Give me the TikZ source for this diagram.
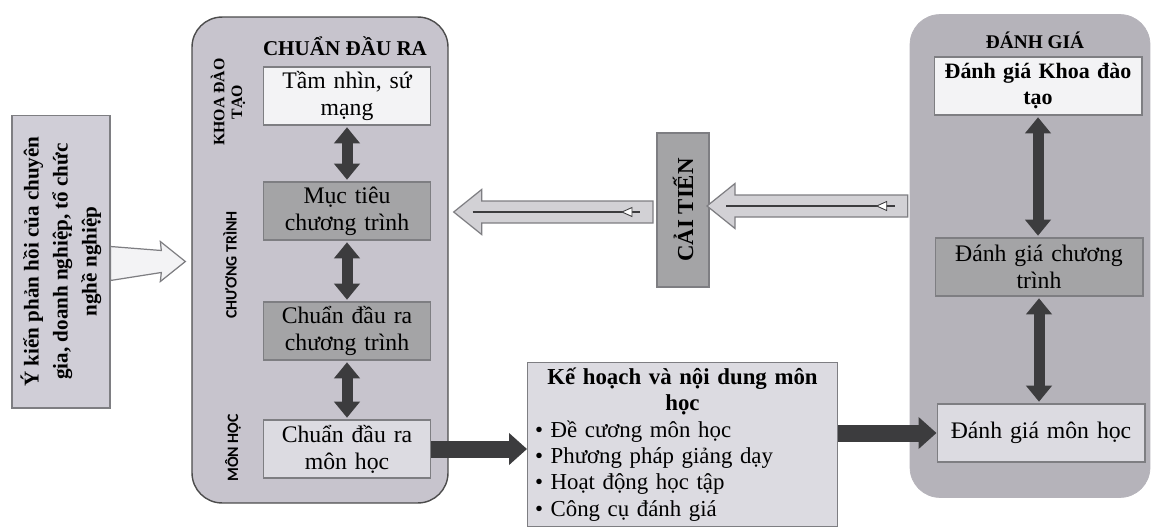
\documentclass[tikz,border=0pt]{standalone}
\usepackage{fontspec}
\setmainfont{Liberation Serif}
\setsansfont{Carlito}
\usetikzlibrary{arrows.meta}
\usetikzlibrary{calc}

\definecolor{panelA}{HTML}{C7C4CD}
\definecolor{panelB}{HTML}{B5B3BA}
\definecolor{boxlight}{HTML}{F3F3F5}
\definecolor{boxmid}{HTML}{DCDBE1}
\definecolor{boxdark}{HTML}{A4A4A6}
\definecolor{arrowdark}{HTML}{3C3C3E}
\definecolor{arrowfill}{HTML}{D2D1D5}
\definecolor{edgegray}{HTML}{7E7E82}
\definecolor{fbfill}{HTML}{D0CED7}

% mui ten rong (sang trai): #1 duoi, #2 dinh
\newcommand{\hollowarrow}[2]{%
  \path[hollow] let \p1=#1, \p2=#2 in
    (\x1,{\y1+0.22cm}) -- ({\x2+0.56cm},{\y1+0.22cm}) -- ({\x2+0.56cm},{\y1+0.45cm})
    -- (\x2,\y1) -- ({\x2+0.56cm},{\y1-0.45cm}) -- ({\x2+0.56cm},{\y1-0.22cm})
    -- (\x1,{\y1-0.22cm}) -- cycle;
  \draw[innerline] let \p1=#1, \p2=#2 in ({\x2+0.38cm},\y1) -- ({\x1-0.26cm},\y1);
  \draw[draw=arrowdark, fill=white, line width=0.5pt] let \p1=#1 in
    ({\x1-0.62cm},\y1) -- ({\x1-0.42cm},{\y1+0.09cm}) -- ({\x1-0.42cm},{\y1-0.09cm}) -- cycle;
}

\begin{document}
\begin{tikzpicture}[x=0.02cm, y=-0.02cm,
    stepbox/.style={draw=edgegray, line width=0.6pt, minimum width=3.34cm, minimum height=1.16cm,
      text width=3.2cm, align=center, inner sep=2pt, font=\fontsize{13.5}{15.5}\selectfont},
    dgbox/.style={stepbox, minimum width=4.16cm, text width=4cm},
    panel/.style={rounded corners=0.6cm, inner sep=0pt},
    headtxt/.style={font=\bfseries\fontsize{12}{14}\selectfont},
    sidelbl/.style={rotate=90, align=center, inner sep=0pt, font=\bfseries\fontsize{9}{10}\selectfont},
    dblarrow/.style={draw=arrowdark, line width=0.22cm, shorten <=1pt, shorten >=1pt,
      {Triangle[width=0.5cm,length=0.32cm]}-{Triangle[width=0.5cm,length=0.32cm]}},
    blockarrow/.style={draw=arrowdark, line width=0.34cm, -{Triangle[width=0.62cm,length=0.36cm]}},
    hollow/.style={fill=arrowfill, draw=edgegray, line width=0.7pt},
    innerline/.style={draw=arrowdark, line width=1.3pt}]

  \useasboundingbox (0,0) rectangle (1158,527);

  % Khung
  \node[panel, fill=panelA, draw=black!70, line width=0.8pt, minimum width=5.12cm, minimum height=9.72cm] (chuan) at (320,260) {};
  \node[panel, fill=panelB, draw=panelB, minimum width=4.8cm, minimum height=9.66cm] (danhgia) at (1030,256) {};
  \node[headtxt] (chuanT) at (345,46) {CHUẨN ĐẦU RA};
  \node[headtxt, font=\bfseries\fontsize{11}{13}\selectfont] (danhgiaT) at (1035,40) {ĐÁNH GIÁ};

  % Nhan doc
  \node[sidelbl] (lkhoa) at (228,102) {KHOA ĐÀO\\TẠO};
  \node[sidelbl, font=\sffamily\bfseries\fontsize{9}{10}\selectfont] (lct) at (230,265) {CHƯƠNG TRÌNH};
  \node[sidelbl, font=\sffamily\bfseries\fontsize{9}{10}\selectfont] (lmh) at (233,448) {MÔN HỌC};

  % Nut
  \node[stepbox, fill=boxlight] (tamnhin) at (347,96) {Tầm nhìn, sứ\\mạng};
  \node[stepbox, fill=boxdark] (muctieu) at (347,211) {Mục tiêu\\chương trình};
  \node[stepbox, fill=boxdark] (cdrct) at (347,331) {Chuẩn đầu ra\\chương trình};
  \node[stepbox, fill=boxmid] (cdrmh) at (347,449) {Chuẩn đầu ra\\môn học};

  \node[dgbox, fill=boxlight, font=\bfseries\fontsize{12.5}{15}\selectfont] (dgkhoa) at (1038,86) {Đánh giá Khoa đào\\tạo};
  \node[dgbox, fill=boxdark] (dgct) at (1039,267) {Đánh giá chương\\trình};
  \node[dgbox, fill=boxmid] (dgmh) at (1041,433) {Đánh giá môn học};

  \node[draw=edgegray, line width=0.6pt, fill=boxmid, anchor=north west, text width=5.9cm,
    inner xsep=0.15cm, inner ysep=3pt, align=left, font=\fontsize{13}{15}\selectfont] (kehoach) at (527,362)
    {{\centering\bfseries Kế hoạch và nội dung môn\\học\par}
     \textbullet\ Đề cương môn học\\
     \textbullet\ Phương pháp giảng dạy\\
     \textbullet\ Hoạt động học tập\\
     \textbullet\ Công cụ đánh giá};

  \node[draw=edgegray, line width=0.6pt, fill=boxdark, rotate=90, minimum width=3.08cm, minimum height=1.04cm,
    inner sep=0pt, font=\bfseries\fontsize{13}{15}\selectfont] (caitien) at (683,210) {CẢI TIẾN};

  \node[draw=edgegray, line width=0.6pt, fill=fbfill, rotate=90, minimum width=5.86cm, minimum height=1.96cm,
    align=center, inner sep=2pt, font=\bfseries\fontsize{12}{16.5}\selectfont] (ykien) at (61,261.5)
    {Ý kiến phản hồi của chuyên\\gia, doanh nghiệp, tổ chức\\nghề nghiệp};

  % Mui ten
  \draw[dblarrow] (tamnhin) -- (muctieu);
  \draw[dblarrow] (muctieu) -- (cdrct);
  \draw[dblarrow] (cdrct) -- (cdrmh);
  \draw[dblarrow] (dgkhoa.south) -- (dgkhoa.south |- dgct.north);
  \draw[dblarrow] (dgct.south) -- (dgct.south |- dgmh.north);

  \draw[blockarrow] (cdrmh.east) -- (cdrmh.east -| kehoach.west);
  \draw[blockarrow] (kehoach.east |- dgmh.west) -- (dgmh.west);

  \hollowarrow{($(caitien.center)+(-30,2)$)}{($(chuan.east)+(5,0)$)}
  \hollowarrow{($(danhgia.west |- caitien.center)+(-2,-4)$)}{($(caitien.center)+(24,0)$)}

  \path[hollow, fill=boxlight] let \p1=(ykien.south), \p2=(chuan.west) in
    (\x1,{\y1+0.3cm}) -- ({\x2-0.6cm},{\y1+0.22cm}) -- ({\x2-0.62cm},{\y1+0.4cm})
    -- ({\x2-0.12cm},\y1) -- ({\x2-0.62cm},{\y1-0.4cm}) -- ({\x2-0.6cm},{\y1-0.22cm})
    -- (\x1,{\y1-0.38cm}) -- cycle;
\end{tikzpicture}
\end{document}
